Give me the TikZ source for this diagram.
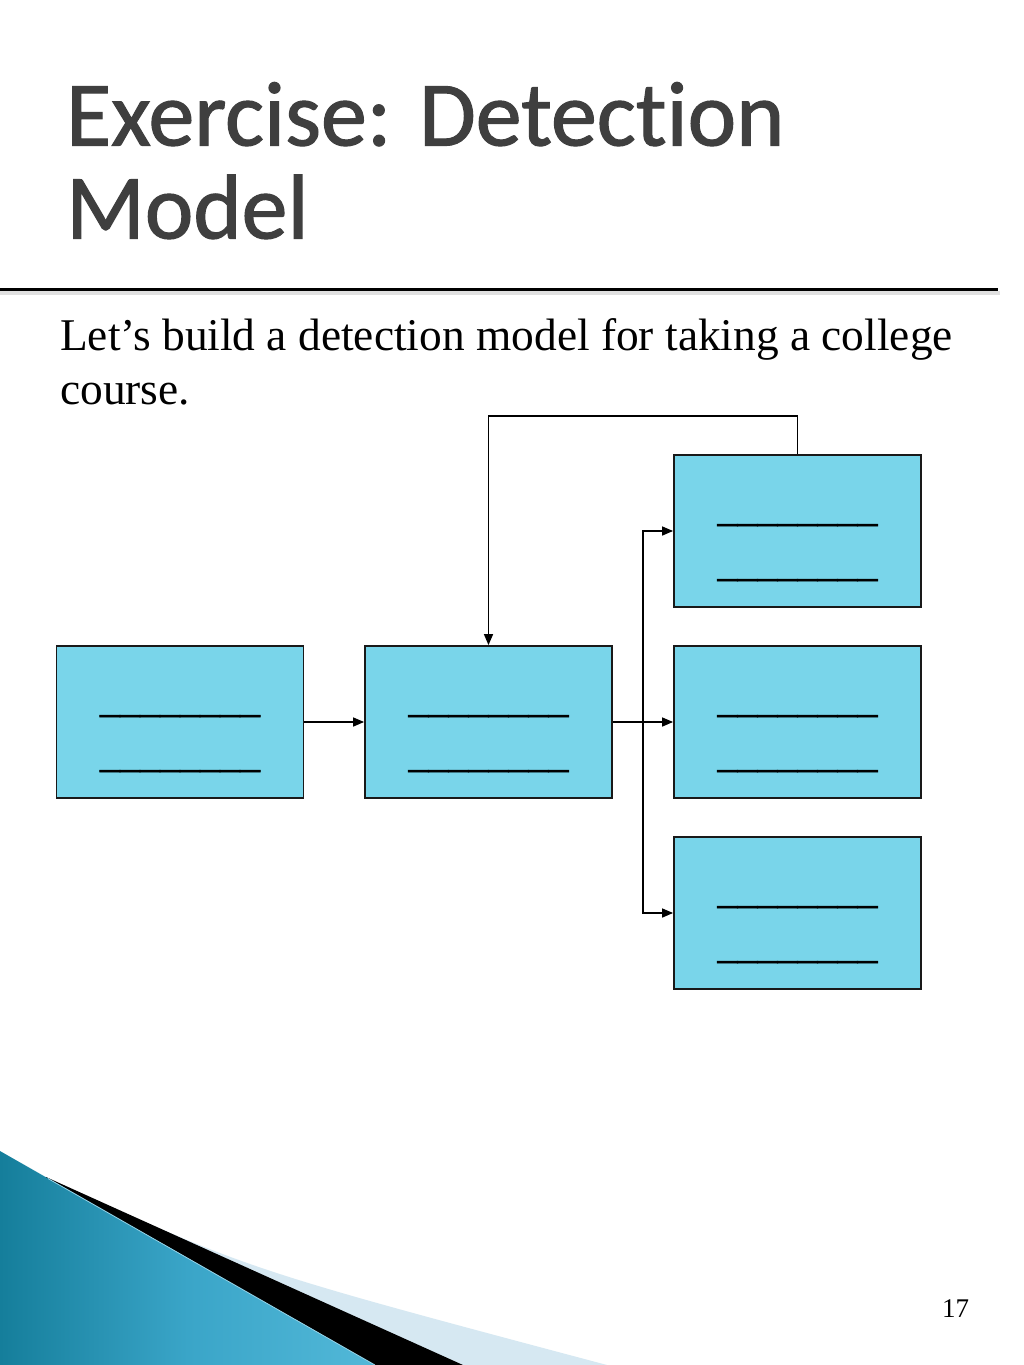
\documentclass[tikz,border=0pt]{standalone}
\usepackage{fontspec}
\setmainfont{Liberation Serif}
\newfontfamily\titlefont[Ligatures=NoCommon, FakeBold=1.2]{Carlito}
\newfontfamily\blankfont[FakeBold=1.2]{Liberation Serif}
\usetikzlibrary{arrows.meta}
\definecolor{boxfill}{HTML}{79D5EA}
\definecolor{titlegray}{HTML}{3F3F3F}
\definecolor{tealdark}{HTML}{157E9B}
\definecolor{tealmid}{HTML}{3AA5C8}
\definecolor{teallight}{HTML}{52B8D8}
\definecolor{paleblue}{HTML}{D6E8F2}
\tikzset{
  boxnode/.style={draw=black!90, line width=1.8pt, fill=boxfill, minimum width=247pt, minimum height=152pt, inner sep=0pt, align=center, font=\blankfont\fontsize{40}{55}\selectfont},
  conn/.style={line width=1.5pt, -{Triangle[length=11pt,width=9pt]}}
}
\newcommand{\blankline}{\rule[-10pt]{0pt}{55pt}\_\_\_\_\_\_\_\_}
\begin{document}
\begin{tikzpicture}[x=1pt,y=-1pt]
\useasboundingbox (0,0) rectangle (1024,1365);
\fill[white] (0,0) rectangle (1024,1365);

% title
\node[anchor=north west, inner sep=0pt, align=left, text=titlegray, font=\titlefont\fontsize{92}{93}\selectfont] (title) at (66,82) {\rule{0pt}{60pt}Exercise: Detection\\Model};

% rule
\draw[line width=4pt, black!12] (0,293) -- (1000,293);
\draw[line width=3pt, black] (0,289) -- (998,289);

% body text
\node[anchor=north west, inner sep=0pt, align=left, font=\fontsize{45.4}{54}\selectfont] (body) at (60,318) {\rule{0pt}{31pt}Let’s build a detection model for taking a college\\course.};

% boxes
\node[boxnode] (b1) at (180,722) {\blankline\\\blankline};
\node[boxnode] (b2) at (488.5,722) {\blankline\\\blankline};
\node[boxnode] (b3) at (797.5,531) {\blankline\\\blankline};
\node[boxnode] (b4) at (797.5,722) {\blankline\\\blankline};
\node[boxnode] (b5) at (797.5,913) {\blankline\\\blankline};

\coordinate (br) at (643,722);
\coordinate (fb) at (0,416);

% connectors
\draw[conn] (b1.east) -- (b2.west);
\draw[conn] (b2.east) -- (b4.west);
\draw[conn] (br) |- (b3.west);
\draw[conn] (br) |- (b5.west);
\draw[conn] (b3.north) -- (b3.north |- fb) -| (b2.north);

% page number
\node[anchor=base, inner sep=0pt, font=\fontsize{27}{30}\selectfont] (pnum) at (955.5,1317) {17};

% decoration bottom-left
\fill[paleblue] (58,1183) .. controls (250,1270) .. (607,1365) -- (0,1365) -- (0,1183) -- cycle;
\fill[black] (46,1177) -- (463,1365) -- (0,1365) -- (0,1177) -- cycle;
\shade[left color=tealdark, right color=teallight, middle color=tealmid] (0,1151) -- (375,1365) -- (0,1365) -- cycle;
\draw[line width=0.8pt, teallight!60!white] (48,1178.5) -- (375,1365);
\end{tikzpicture}
\end{document}
